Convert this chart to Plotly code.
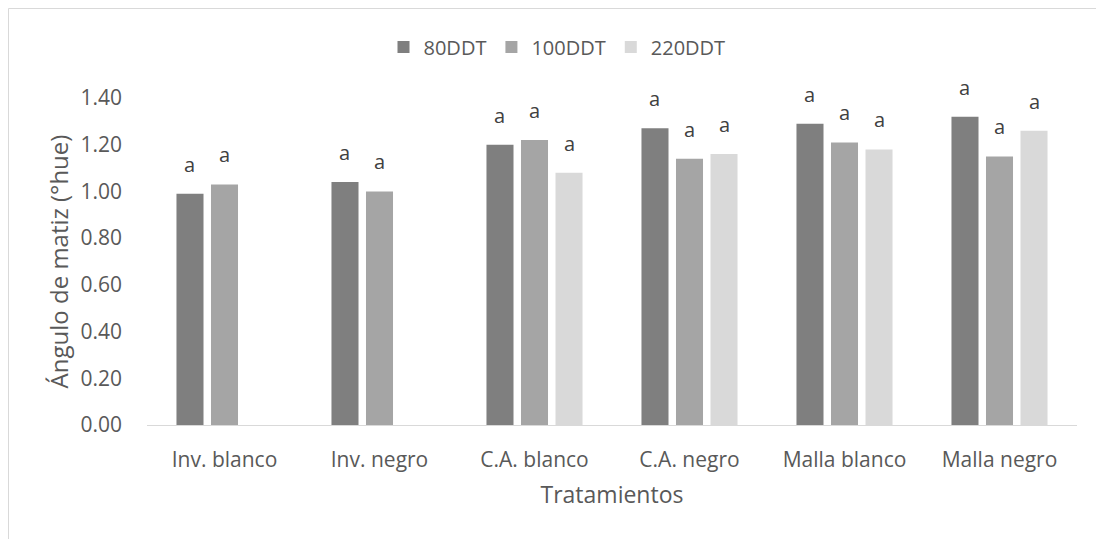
import plotly.graph_objects as go

categories = ["Inv. blanco", "Inv. negro", "C.A. blanco", "C.A. negro", "Malla blanco", "Malla negro"]
series_names = ["80DDT", "100DDT", "220DDT"]
v80 = [0.99, 1.04, 1.20, 1.27, 1.29, 1.32]
v100 = [1.03, 1.00, 1.22, 1.14, 1.21, 1.15]
v220 = [None, None, 1.08, 1.16, 1.18, 1.26]
letters80 = ["a", "a", "a", "a", "a", "a"]
letters100 = ["a", "a", "a", "a", "a", "a"]
letters220 = ["", "", "a", "a", "a", "a"]
y_ticks = [0.0, 0.2, 0.4, 0.6, 0.8, 1.0, 1.2, 1.4]

colors = ["#7f7f7f", "#a5a5a5", "#d9d9d9"]
font_family = "Open Sans, Liberation Sans, sans-serif"

W, H = 1096, 531
ML, MR, MT, MB = 139, 27, 90, 114
BARGAP, GROUPGAP = 0.332, 0.217
plot_w = W - ML - MR
plot_h = H - MT - MB
cat_px = plot_w / len(categories)
pitch = cat_px * (1 - BARGAP) / len(series_names)

fig = go.Figure()
annotations = []
for i, (name, vals, txt, col) in enumerate(zip(series_names, [v80, v100, v220],
                                                [letters80, letters100, letters220], colors)):
    fig.add_trace(go.Bar(
        x=categories, y=vals, name=name,
        marker=dict(color=col, line=dict(width=0)),
    ))
    for c, v, t in zip(categories, vals, txt):
        if v is None or not t:
            continue
        annotations.append(dict(
            x=c, y=v, xref="x", yref="y", text=t, showarrow=False,
            xanchor="center", yanchor="bottom",
            xshift=(i - 1) * pitch, yshift=14,
            font=dict(size=20, color="#404040", family=font_family),
        ))

fig.update_layout(
    width=W, height=H,
    margin=dict(l=ML, r=MR, t=MT, b=MB),
    paper_bgcolor="white", plot_bgcolor="white",
    barmode="group", bargap=BARGAP, bargroupgap=GROUPGAP,
    font=dict(family=font_family, color="#595959"),
    showlegend=True,
    legend=dict(orientation="h", x=(549 - ML) / plot_w, xanchor="center",
                y=(MT + plot_h - 39) / plot_h, yanchor="middle",
                font=dict(size=20, color="#595959"), traceorder="normal"),
    xaxis=dict(showline=True, linecolor="#d9d9d9", linewidth=1, ticks="",
               tickfont=dict(size=21, color="#595959"), ticklabelstandoff=16,
               title=dict(text="Tratamientos", font=dict(size=23, color="#595959"), standoff=14)),
    yaxis=dict(range=[0, 1.4], tickvals=y_ticks, tickformat=".2f", showgrid=False,
               zeroline=False, showline=False, ticks="",
               tickfont=dict(size=21, color="#595959"), ticklabelstandoff=24,
               title=dict(text="Ángulo de matiz (°hue)", font=dict(size=24, color="#595959"), standoff=5)),
    annotations=annotations,
    shapes=[
        dict(type="line", xref="paper", yref="paper",
             x0=(0.5 - ML) / plot_w, x1=(0.5 - ML) / plot_w,
             y0=-MB / plot_h, y1=(plot_h + MT - 0.5) / plot_h,
             line=dict(color="#d9d9d9", width=1), layer="below"),
        dict(type="line", xref="paper", yref="paper",
             x0=(0.5 - ML) / plot_w, x1=(W + MR) / plot_w,
             y0=(plot_h + MT - 0.5) / plot_h, y1=(plot_h + MT - 0.5) / plot_h,
             line=dict(color="#d9d9d9", width=1), layer="below"),
    ],
)

fig.write_html("out.html")
